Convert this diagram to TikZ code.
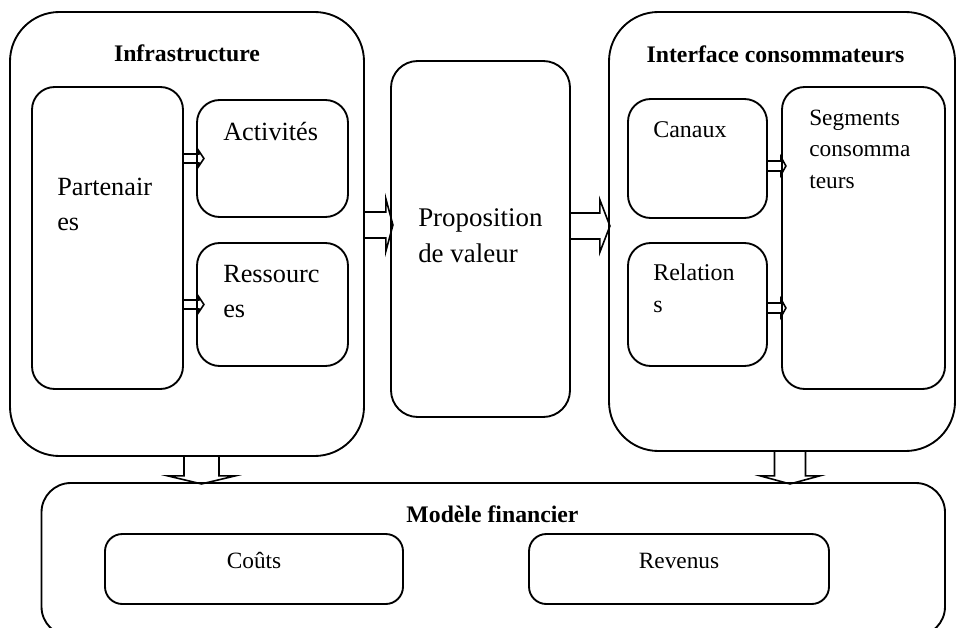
\documentclass[tikz,border=0pt]{standalone}
\usepackage{fontspec}
\setmainfont{Liberation Serif}
\usetikzlibrary{fit,calc}

% fleche bloc horizontale : depart, long. tige, demi-tige, demi-tete, long. tete
\newcommand{\flecheh}[5]{\draw[bloc] #1 ++(0,-#3) -- ++(#2,0) -- ++(0,-#4+#3) -- ++(#5,#4) -- ++(-#5,#4) -- ++(0,-#4+#3) -- ++(-#2,0);}
% fleche bloc verticale (vers le bas)
\newcommand{\flechev}[5]{\draw[bloc] #1 ++(-#3,0) -- ++(0,#2) -- ++(-#4+#3,0) -- ++(#4,#5) -- ++(#4,-#5) -- ++(-#4+#3,0) -- ++(0,-#2);}

\tikzset{
  boite/.style={draw, line width=1.4pt, rounded corners=#1, inner sep=0pt},
  boite/.default=17pt,
  bloc/.style={line width=1.2pt, line join=miter},
  titre/.style={font=\fontsize{17.8}{21}\selectfont\bfseries, anchor=base, inner sep=0pt},
  txt/.style={font=\fontsize{19.7}{26.25}\selectfont, align=left, anchor=base west, inner sep=0pt},
  txtb/.style={font=\fontsize{18}{24}\selectfont, align=left, anchor=base west, inner sep=0pt},
}

\begin{document}
\begin{tikzpicture}[x=0.75pt, y=-0.75pt]
		\useasboundingbox (0,0) rectangle (957,628);
		% infrastructure
		\node[boite=37pt, fit={(10,12) (364,456)}] (infra) {};
		\node[titre] (tinfra) at (187,61) {Infrastructure};
		\node[boite, fit={(32,87) (183,389)}] (part) {};
		\node[boite, fit={(197,100) (348,217)}] (act) {};
		\node[boite, fit={(197,243) (348,366)}] (res) {};
		\node[txt] (tpart) at (57,230) {Partenair\\es};
		\node[txt] (tact) at (223,140) {Activités};
		\node[txt] (tres) at (223,317) {Ressourc\\es};
		% proposition de valeur
		\node[boite=20pt, fit={(391,61) (570,417)}] (prop) {};
		\node[txt, font=\fontsize{20.2}{27}\selectfont] (tprop) at (418,262) {Proposition\\de valeur};
		% interface consommateurs
		\node[boite=37pt, fit={(609,12) (955,451)}] (inter) {};
		\node[titre] (tinter) at (775.5,62) {Interface consommateurs};
		\node[boite, fit={(628,99) (767,218)}] (can) {};
		\node[boite, fit={(628,243) (767,366)}] (rel) {};
		\node[boite, fit={(782,87) (945,389)}] (seg) {};
		\node[txtb] (tcan) at (653,137) {Canaux};
		\node[txtb] (trel) at (653,312) {Relation\\s};
		\node[txtb, font=\fontsize{17.5}{23.6}\selectfont] (tseg) at (809,188) {Segments\\consomma\\teurs};
		% modele financier
		\node[boite=22pt, fit={(41.5,483) (945,636)}] (fin) {};
		\node[titre] (tfin) at (492.5,522) {Modèle financier};
		\node[boite=13pt, fit={(105,534) (403,604)}] (cout) {};
		\node[boite=13pt, fit={(529,534) (829,604)}] (rev) {};
		\node[titre, font=\fontsize{17.5}{21}\selectfont] (tcout) at (cout.center |- 0,568) {Coûts};
		\node[titre, font=\fontsize{17.5}{21}\selectfont] (trev) at (rev.center |- 0,568) {Revenus};
		% fleches
		\flecheh{(part.east |- act.west)}{15}{4.5}{7.5}{5}
		\flecheh{(part.east |- res.west)}{15}{4.5}{7.5}{5}
		\flecheh{($(infra.east)+(0,-9)$)}{21}{13}{26}{7}
		\flecheh{($(prop.east)+(0,-13)$)}{29}{13}{26}{10}
		\flecheh{($(can.east)+(0,7.5)$)}{13}{5}{9}{5}
		\flecheh{($(rel.east)+(0,3.5)$)}{13}{5}{9}{5}
		\flechev{($(infra.south)+(14.5,0)$)}{19}{17.5}{33.5}{8}
		\flechev{($(inter.south)+(8,0)$)}{24}{15.5}{29.5}{8}
\end{tikzpicture}
\end{document}
